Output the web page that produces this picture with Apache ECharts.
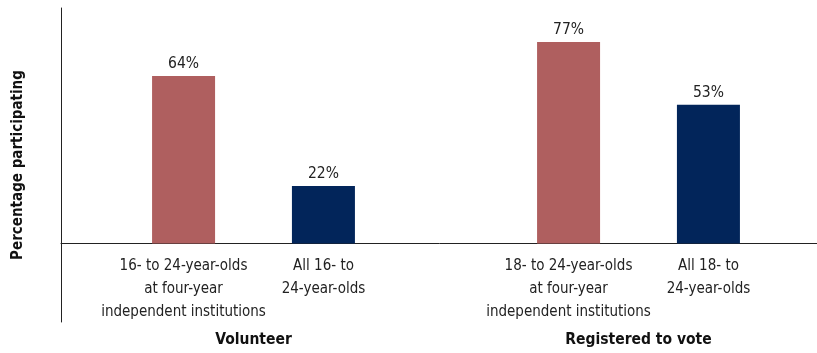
<!DOCTYPE html>
<html>
<head>
<meta charset="utf-8">
<script src="https://cdn.jsdelivr.net/npm/echarts@6.0.0/dist/echarts.min.js"></script>
<style>
  html, body { margin: 0; padding: 0; background: #fff; }
  #chart { width: 817px; height: 353px; }
</style>
</head>
<body>
<div id="chart"></div>
<script>
  // groups on the x axis
  var groups = ["Volunteer", "Registered to vote"];
  // sub labels under each bar, per group
  var subLabels = [
    [["16- to 24-year-olds", "at four-year", "independent institutions"], ["All 16- to", "24-year-olds"]],
    [["18- to 24-year-olds", "at four-year", "independent institutions"], ["All 18- to", "24-year-olds"]]
  ];
  // values, percent
  var independentVals = [64, 77];
  var allVals = [22, 53];

  var font = '"DejaVu Sans Condensed", "Liberation Sans Narrow", sans-serif';

  function makeLabel(value, idx) {
    var a = subLabels[idx][0], b = subLabels[idx][1];
    var lines = [];
    for (var j = 0; j < 3; j++) {
      lines.push("{s|" + (a[j] || "\u00a0") + "}{s|" + (b[j] || "\u00a0") + "}");
    }
    lines.push("{t|" + value + "}");
    return lines.join("\n");
  }

  var chart = echarts.init(document.getElementById("chart"));
  chart.setOption({
    animation: false,
    textStyle: { fontFamily: font },
    grid: { left: 61, right: -14, top: 8, bottom: 31, containLabel: false, outerBoundsMode: "none" },
    xAxis: {
      type: "category",
      data: groups,
      axisLine: { show: true, onZero: true, lineStyle: { color: "#222", width: 1 } },
      axisTick: { show: false },
      axisLabel: {
        interval: 0,
        margin: -67,
        formatter: makeLabel,
        rich: {
          s: { width: 140, align: "center", fontSize: 15, lineHeight: 23, color: "#222", fontFamily: font },
          t: { width: 280, align: "center", fontSize: 15.5, fontWeight: "bold", lineHeight: 27, color: "#111", fontFamily: font, padding: [4, 0, 0, 0] }
        }
      }
    },
    yAxis: {
      type: "value",
      min: -30,
      max: 90,
      name: "Percentage participating",
      nameLocation: "middle",
      nameGap: 35,
      nameTextStyle: { fontSize: 15, fontWeight: "bold", color: "#111", fontFamily: font },
      axisLine: { show: true, lineStyle: { color: "#222", width: 1 } },
      axisTick: { show: false },
      axisLabel: { show: false },
      splitLine: { show: false }
    },
    series: [
      {
        type: "bar",
        data: independentVals,
        barWidth: 63,
        barGap: "122%",
        itemStyle: { color: "#AF5F5F" },
        label: { show: true, position: "top", distance: 4, formatter: "{c}%", fontSize: 15.5, color: "#222", fontFamily: font }
      },
      {
        type: "bar",
        data: allVals,
        barWidth: 63,
        itemStyle: { color: "#02255A" },
        label: { show: true, position: "top", distance: 4, formatter: "{c}%", fontSize: 15.5, color: "#222", fontFamily: font }
      }
    ]
  });
</script>
</body>
</html>
